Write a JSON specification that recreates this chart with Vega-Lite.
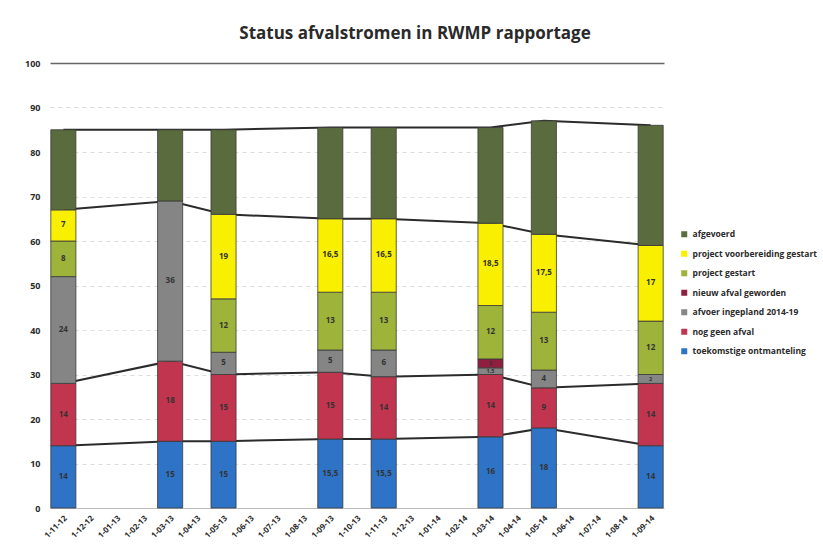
{
  "$schema": "https://vega.github.io/schema/vega-lite/v6.json",
  "autosize": {"type": "none"},
  "width": 614,
  "height": 445,
  "padding": {"left": 50, "top": 63, "right": 159, "bottom": 45},
  "background": "white",
  "title": {"text": "Status afvalstromen in RWMP rapportage", "font": "Open Sans", "fontSize": 17, "fontWeight": "bold", "color": "#2a2a2a", "anchor": "middle", "dx": 58, "offset": 16},
  "config": {
    "view": {"stroke": null},
    "font": "Open Sans"
  },
  "data": {"values": [
    {"date": "2012-11", "series": "toekomstige ontmanteling", "value": 14},
    {"date": "2012-11", "series": "nog geen afval", "value": 14},
    {"date": "2012-11", "series": "afvoer ingepland 2014-19", "value": 24},
    {"date": "2012-11", "series": "project gestart", "value": 8},
    {"date": "2012-11", "series": "project voorbereiding gestart", "value": 7},
    {"date": "2012-11", "series": "afgevoerd", "value": 18},
    {"date": "2013-03", "series": "toekomstige ontmanteling", "value": 15},
    {"date": "2013-03", "series": "nog geen afval", "value": 18},
    {"date": "2013-03", "series": "afvoer ingepland 2014-19", "value": 36},
    {"date": "2013-03", "series": "afgevoerd", "value": 16},
    {"date": "2013-05", "series": "toekomstige ontmanteling", "value": 15},
    {"date": "2013-05", "series": "nog geen afval", "value": 15},
    {"date": "2013-05", "series": "afvoer ingepland 2014-19", "value": 5},
    {"date": "2013-05", "series": "project gestart", "value": 12},
    {"date": "2013-05", "series": "project voorbereiding gestart", "value": 19},
    {"date": "2013-05", "series": "afgevoerd", "value": 19},
    {"date": "2013-09", "series": "toekomstige ontmanteling", "value": 15.5},
    {"date": "2013-09", "series": "nog geen afval", "value": 15},
    {"date": "2013-09", "series": "afvoer ingepland 2014-19", "value": 5},
    {"date": "2013-09", "series": "project gestart", "value": 13},
    {"date": "2013-09", "series": "project voorbereiding gestart", "value": 16.5},
    {"date": "2013-09", "series": "afgevoerd", "value": 20.5},
    {"date": "2013-11", "series": "toekomstige ontmanteling", "value": 15.5},
    {"date": "2013-11", "series": "nog geen afval", "value": 14},
    {"date": "2013-11", "series": "afvoer ingepland 2014-19", "value": 6},
    {"date": "2013-11", "series": "project gestart", "value": 13},
    {"date": "2013-11", "series": "project voorbereiding gestart", "value": 16.5},
    {"date": "2013-11", "series": "afgevoerd", "value": 20.5},
    {"date": "2014-03", "series": "toekomstige ontmanteling", "value": 16},
    {"date": "2014-03", "series": "nog geen afval", "value": 14},
    {"date": "2014-03", "series": "afvoer ingepland 2014-19", "value": 1.5},
    {"date": "2014-03", "series": "nieuw afval geworden", "value": 2},
    {"date": "2014-03", "series": "project gestart", "value": 12},
    {"date": "2014-03", "series": "project voorbereiding gestart", "value": 18.5},
    {"date": "2014-03", "series": "afgevoerd", "value": 21.5},
    {"date": "2014-05", "series": "toekomstige ontmanteling", "value": 18},
    {"date": "2014-05", "series": "nog geen afval", "value": 9},
    {"date": "2014-05", "series": "afvoer ingepland 2014-19", "value": 4},
    {"date": "2014-05", "series": "project gestart", "value": 13},
    {"date": "2014-05", "series": "project voorbereiding gestart", "value": 17.5},
    {"date": "2014-05", "series": "afgevoerd", "value": 25.5},
    {"date": "2014-09", "series": "toekomstige ontmanteling", "value": 14},
    {"date": "2014-09", "series": "nog geen afval", "value": 14},
    {"date": "2014-09", "series": "afvoer ingepland 2014-19", "value": 2},
    {"date": "2014-09", "series": "project gestart", "value": 12},
    {"date": "2014-09", "series": "project voorbereiding gestart", "value": 17},
    {"date": "2014-09", "series": "afgevoerd", "value": 27}
  ]},
  "transform": [
    {"calculate": "indexof(['toekomstige ontmanteling','nog geen afval','afvoer ingepland 2014-19','nieuw afval geworden','project gestart','project voorbereiding gestart','afgevoerd'], datum.series)", "as": "ord"},
    {"stack": "value", "groupby": ["date"], "sort": [{"field": "ord", "order": "ascending"}], "as": ["v0", "v1"]}
  ],
  "encoding": {
    "x": {
      "field": "date", "type": "ordinal",
      "scale": {"domain": ["2012-11","2012-12","2013-01","2013-02","2013-03","2013-04","2013-05","2013-06","2013-07","2013-08","2013-09","2013-10","2013-11","2013-12","2014-01","2014-02","2014-03","2014-04","2014-05","2014-06","2014-07","2014-08","2014-09"], "paddingInner": 0.06, "paddingOuter": 0.03},
      "axis": {"title": null, "labelAngle": -45, "labelExpr": "'1-' + slice(datum.value, 5, 7) + '-' + slice(datum.value, 2, 4)", "labelFontSize": 8, "labelFontWeight": "bold", "labelColor": "#2a2a2a", "ticks": false, "labelPadding": 6, "domainColor": "#bbbbbb"}
    }
  },
  "layer": [
    {
      "transform": [{"filter": "indexof(['toekomstige ontmanteling','nog geen afval','afgevoerd'], datum.series) >= 0"}],
      "mark": {"type": "line", "color": "#2b2b2b", "strokeWidth": 2},
      "encoding": {
        "y": {"field": "v1", "type": "quantitative", "scale": {"domain": [0, 100]},
          "axis": {"title": null, "values": [0,10,20,30,40,50,60,70,80,90,100], "labelFontSize": 9, "labelFontWeight": "bold", "labelColor": "#2a2a2a", "ticks": false, "domain": false, "labelPadding": 10,
            "gridColor": {"condition": {"test": "datum.value == 100", "value": "#666666"}, "value": "#dddddd"},
            "gridDash": {"condition": {"test": "datum.value == 100", "value": []}, "value": [4, 4]},
            "gridWidth": {"condition": {"test": "datum.value == 100", "value": 1.5}, "value": 1}}},
        "detail": {"field": "series"}
      }
    },
    {
      "transform": [{"filter": "datum.series == 'afgevoerd'"}],
      "mark": {"type": "line", "color": "#2b2b2b", "strokeWidth": 2},
      "encoding": {
        "y": {"field": "v0", "type": "quantitative"}
      }
    },
    {
      "mark": {"type": "bar", "stroke": "#3a3a3a", "strokeWidth": 0.8},
      "encoding": {
        "y": {"field": "v0", "type": "quantitative"},
        "y2": {"field": "v1"},
        "color": {
          "field": "series", "type": "nominal",
          "scale": {
            "domain": ["afgevoerd","project voorbereiding gestart","project gestart","nieuw afval geworden","afvoer ingepland 2014-19","nog geen afval","toekomstige ontmanteling"],
            "range": ["#5a6b3e","#f8f000","#9db33a","#8e1f3f","#858585","#c2354e","#2e73c6"]
          },
          "legend": {"title": null, "orient": "none", "legendX": 630, "legendY": 167, "symbolType": "square", "symbolSize": 36, "symbolStrokeWidth": 0, "labelFontSize": 8.5, "labelFontWeight": "bold", "labelColor": "#2a2a2a", "rowPadding": 10.5, "labelOffset": 4, "labelLimit": 200}
        }
      }
    },
    {
      "transform": [
        {"filter": "datum.series != 'afgevoerd'"},
        {"calculate": "(datum.v0 + datum.v1) / 2", "as": "mid"},
        {"calculate": "replace(toString(datum.value), '.', ',')", "as": "label"}
      ],
      "mark": {"type": "text", "fontWeight": "bold", "color": "#333333"},
      "encoding": {
        "y": {"field": "mid", "type": "quantitative"},
        "text": {"field": "label"},
        "size": {"condition": {"test": "datum.value < 3", "value": 5.5}, "value": 8}
      }
    }
  ]
}
